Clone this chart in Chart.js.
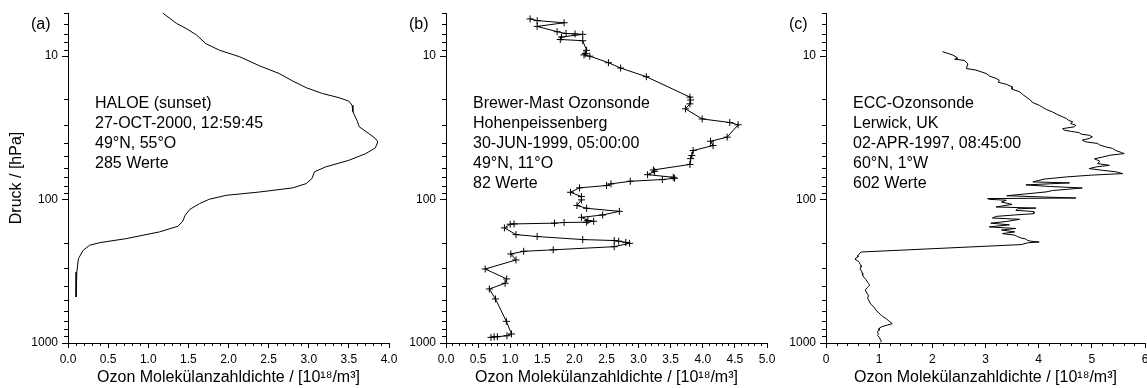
<!DOCTYPE html>
<html>
<head>
<meta charset="utf-8">
<title>Ozonprofile</title>
<script src="https://cdn.jsdelivr.net/npm/chart.js@4/dist/chart.umd.min.js"></script>
<style>
  html, body { margin: 0; padding: 0; background: #fff; }
  body { position: relative; width: 1147px; height: 388px; overflow: hidden; }
  canvas { position: absolute; top: 0; }
  #ca { left: 0; }
  #cb { left: 390px; }
  #cc { left: 770px; }
</style>
</head>
<body>
<canvas id="ca" width="410" height="388"></canvas>
<canvas id="cb" width="400" height="388"></canvas>
<canvas id="cc" width="400" height="388"></canvas>
<script>
// (a) HALOE, Druck in hPa / Ozon in 10^18 m^-3
const pressureA = [5.0, 5.9, 6.4, 7.1, 8.2, 9.1, 10.1, 11.7, 13.2, 14.9, 16.6, 18.2, 19.5, 20.6, 22.0, 24.4,
  28.0, 31.1, 34.7, 37.5, 39.6, 43.6, 47.8, 53.2, 59.2, 64.1, 71.3, 77.3, 82.9, 88.5, 93.4, 99.5,
  106.6, 116.8, 128.5, 141.5, 153.5, 168, 187, 199.5, 208, 225.6, 258, 320, 478];
const ozoneA = [1.18, 1.35, 1.47, 1.60, 1.72, 1.89, 2.14, 2.39, 2.63, 2.80, 2.97, 3.17, 3.38, 3.50, 3.54, 3.55,
  3.60, 3.63, 3.75, 3.83, 3.86, 3.83, 3.71, 3.50, 3.21, 3.07, 3.04, 2.97, 2.80, 2.39, 1.97, 1.76,
  1.64, 1.52, 1.46, 1.43, 1.37, 1.14, 0.73, 0.40, 0.27, 0.19, 0.13, 0.11, 0.10];

// (b) Brewer-Mast Ozonsonde Hohenpeissenberg
const pressureB = [5.5, 5.65, 5.85, 6.2, 6.75, 6.95, 7.0, 7.05, 7.35, 7.65, 7.8,
  9.1, 9.6, 9.8, 10.0, 11.1, 12.1, 13.9, 19.3, 20.2, 21.5, 23.3, 27.4, 29.0, 30.1,
  36.7, 39.2, 42.0, 45.5, 49.3, 51.8, 56.9, 62.1, 63.5, 67.0, 69.9, 71.0, 72.5, 74.5,
  77.7, 79.8, 82.8, 88.9, 95.3, 100.5, 110, 115, 120.8, 128, 133, 140, 141.6, 143.8,
  144.5, 146, 147.8, 148.5, 157.5, 175.4, 181, 190, 193, 195, 199, 201.8, 213, 224,
  229.5, 239.5, 263.6, 304.8, 357.5, 383.5, 420, 493, 706, 865, 890, 904, 906, 914];
const ozoneB = [1.31, 1.42, 1.84, 1.42, 1.73, 1.87, 2.01, 2.13, 1.80, 1.78, 2.13,
  2.19, 2.17, 2.15, 2.24, 2.53, 2.72, 3.12, 3.80, 3.81, 3.80, 3.73, 3.99, 4.42, 4.55,
  4.38, 4.12, 4.16, 3.85, 3.83, 3.81, 3.80, 3.23, 3.25, 3.14, 3.54, 3.56, 3.37, 2.87,
  2.57, 2.50, 2.08, 1.94, 2.11, 2.11, 2.04, 2.19, 2.70, 2.44, 2.11, 2.21, 2.30, 2.19,
  1.84, 1.69, 1.06, 1.00, 0.91, 1.09, 1.42, 2.13, 2.62, 2.69, 2.80, 2.86, 2.62, 1.67,
  1.21, 1.01, 1.09, 0.61, 0.945, 0.92, 0.675, 0.77, 0.94, 1.02, 0.95, 0.80, 0.75, 0.70];

// (c) ECC-Ozonsonde Lerwick
const pressureC = [9.3, 9.8, 10.3, 10.5, 10.7, 11.3, 12.2, 12.5, 13.2, 13.8, 14.3, 14.7, 15.2, 15.7, 16.4, 17.0,
  17.7, 18.5, 19.2, 20.3, 21.0, 22.0, 22.8, 23.6, 24.5, 25.5, 26.5, 27.2, 28.0, 28.7, 29.5, 30.3,
  31.1, 32.0, 32.8, 33.5, 34.1, 35.0, 35.6, 36.5, 37.5, 38.5, 39.6, 40.6, 41.5, 42.8, 44.0, 45.5,
  47.0, 47.8, 49.0, 50.5, 52.0, 54.0, 56.1, 57.7, 59.0, 60.8, 62.5, 64.0, 65.9, 67.5, 69.5, 72.0,
  75.3, 76.5, 79.0, 81.0, 83.0, 85.0, 86.5, 88.4, 91.0, 94.0, 96.5, 97.5, 98.4, 99.6, 101, 104,
  108, 112.6, 114.6, 116, 118.9, 121, 125.4, 128, 131, 134.4, 137.2, 142, 146, 150, 155, 159,
  163, 168, 172.6, 177, 181, 185.3, 188, 192.3, 195, 197.6, 200, 206, 232, 240, 246, 251,
  256, 262, 268, 275, 282, 288, 295, 305, 315, 325, 337, 350, 362, 375, 385, 396,
  410, 425, 441, 455, 470, 485, 500, 518, 540, 560, 576, 592, 610, 630, 650, 676,
  700, 720, 733, 750, 770, 790, 816, 840, 860, 885, 910, 940, 970, 990];
const ozoneC = [2.19, 2.38, 2.48, 2.42, 2.60, 2.67, 2.64, 2.82, 3.01, 3.08, 3.20, 3.26, 3.24, 3.39, 3.51, 3.50,
  3.64, 3.70, 3.76, 3.85, 3.88, 4.01, 4.08, 4.15, 4.26, 4.35, 4.45, 4.52, 4.56, 4.64, 4.60, 4.70,
  4.67, 4.45, 4.48, 4.62, 4.76, 4.80, 4.95, 5.01, 4.95, 4.82, 4.89, 5.11, 5.14, 5.25, 5.39, 5.45,
  5.56, 5.61, 5.35, 5.20, 5.05, 5.15, 5.11, 5.33, 5.10, 4.95, 5.20, 5.45, 5.58, 5.00, 4.52, 4.10,
  3.89, 4.58, 3.76, 4.20, 4.82, 4.50, 4.26, 4.14, 3.80, 3.40, 4.30, 4.70, 3.04, 3.07, 3.39, 3.30,
  3.50, 3.20, 3.95, 3.60, 3.57, 3.90, 3.91, 3.55, 3.20, 3.13, 3.64, 3.40, 3.10, 3.45, 3.07, 3.57,
  3.30, 3.55, 3.32, 3.55, 3.60, 3.67, 3.75, 3.79, 3.85, 4.01, 3.80, 3.67, 0.66, 0.62, 0.60, 0.60,
  0.56, 0.555, 0.60, 0.63, 0.64, 0.66, 0.66, 0.64, 0.67, 0.68, 0.69, 0.72, 0.75, 0.78, 0.80, 0.82,
  0.78, 0.74, 0.755, 0.78, 0.80, 0.78, 0.80, 0.82, 0.85, 0.90, 0.92, 0.94, 0.98, 1.02, 1.06, 1.13,
  1.18, 1.22, 1.245, 1.15, 1.05, 1.00, 1.00, 0.96, 0.99, 0.97, 1.00, 1.02, 1.04, 1.03];

const infoA = ['HALOE (sunset)', '27-OCT-2000, 12:59:45', '49°N, 55°O', '285 Werte'];
const infoB = ['Brewer-Mast Ozonsonde', 'Hohenpeissenberg', '30-JUN-1999, 05:00:00', '49°N, 11°O', '82 Werte'];
const infoC = ['ECC-Ozonsonde', 'Lerwick, UK', '02-APR-1997, 08:45:00', '60°N, 1°W', '602 Werte'];

const xTicksA = [0, 0.5, 1, 1.5, 2, 2.5, 3, 3.5, 4];
const xTicksB = [0, 0.5, 1, 1.5, 2, 2.5, 3, 3.5, 4, 4.5, 5];
const xTicksC = [0, 1, 2, 3, 4, 5, 6];
const yTicks = [10, 100, 1000];
const yMinor = [5, 6, 7, 8, 9, 20, 30, 40, 50, 60, 70, 80, 90, 200, 300, 400, 500, 600, 700, 800, 900];

const FONT = 'Arial, "Liberation Sans", Helvetica, sans-serif';
Chart.defaults.font.family = FONT;
Chart.defaults.color = '#000';

// kurze Zwischenstriche an beiden Achsen
const minorTicks = {
  id: 'minorTicks',
  afterDraw(chart, args, opts) {
    const ctx = chart.ctx, sx = chart.scales.x, sy = chart.scales.y;
    ctx.save();
    ctx.strokeStyle = '#000';
    ctx.lineWidth = 1;
    ctx.beginPath();
    opts.x.forEach(v => {
      const px = Math.round(sx.getPixelForValue(v)) + 0.5;
      ctx.moveTo(px, sx.top);
      ctx.lineTo(px, sx.top + 3);
    });
    opts.y.forEach(v => {
      const py = Math.round(sy.getPixelForValue(v)) + 0.5;
      ctx.moveTo(sy.right, py);
      ctx.lineTo(sy.right - 4, py);
    });
    ctx.stroke();
    ctx.restore();
  }
};

// Panelbuchstabe und Beschreibungstext
const panelText = {
  id: 'panelText',
  afterDraw(chart, args, opts) {
    const ctx = chart.ctx, area = chart.chartArea;
    ctx.save();
    ctx.fillStyle = '#000';
    ctx.font = '16px ' + FONT;
    ctx.textAlign = 'left';
    ctx.textBaseline = 'alphabetic';
    ctx.fillText(opts.letter, area.left - 37, 29);
    opts.lines.forEach((t, i) => ctx.fillText(t, area.left + 27, 108 + 20 * i));
    ctx.restore();
  }
};

function minorList(max, step, major) {
  const out = [];
  for (let k = 1; k * step < max + 1e-9; k++) {
    const v = +(k * step).toFixed(2);
    if (Math.abs(v / major - Math.round(v / major)) > 1e-6) out.push(v);
  }
  return out;
}

function panel(id, o) {
  return new Chart(document.getElementById(id), {
    type: 'scatter',
    data: {
      datasets: [{
        data: o.pressure.map((p, i) => ({ x: o.ozone[i], y: p })),
        showLine: true,
        borderColor: '#000',
        borderWidth: 1,
        tension: 0,
        pointStyle: 'cross',
        pointRadius: o.markers ? 3.5 : 0,
        pointHoverRadius: 0,
        pointBorderColor: '#000',
        pointBorderWidth: 1
      }]
    },
    options: {
      responsive: false,
      animation: false,
      events: [],
      layout: { padding: { left: 0, right: o.padRight, top: 13, bottom: 0 } },
      plugins: {
        legend: { display: false },
        tooltip: { enabled: false },
        minorTicks: { x: o.xMinor, y: yMinor },
        panelText: { letter: o.letter, lines: o.info }
      },
      scales: {
        x: {
          type: 'linear',
          position: 'bottom',
          min: 0,
          max: o.xMax,
          afterBuildTicks: s => { s.ticks = o.xTicks.map(v => ({ value: v })); },
          afterFit: s => { s.height = 45; },
          grid: { drawOnChartArea: false, drawTicks: true, tickLength: 5, color: '#000', tickColor: '#000' },
          border: { display: true, color: '#000', width: 1 },
          ticks: { font: { size: 12 }, color: '#000', padding: 4, maxRotation: 0, autoSkip: false, callback: o.xFmt },
          title: {
            display: true,
            text: 'Ozon Molekülanzahldichte / [10¹⁸/m³]',
            font: { size: 16 },
            color: '#000',
            padding: { top: 0, bottom: 1 }
          }
        },
        y: {
          type: 'logarithmic',
          position: 'left',
          min: 5,
          max: 1000,
          reverse: true,
          afterBuildTicks: s => { s.ticks = yTicks.map(v => ({ value: v })); },
          afterFit: s => { s.width = o.yWidth; },
          grid: { drawOnChartArea: false, drawTicks: true, tickLength: 6, color: '#000', tickColor: '#000' },
          border: { display: true, color: '#000', width: 1 },
          ticks: { font: { size: 12 }, color: '#000', padding: 4, autoSkip: false, callback: v => String(v) },
          title: {
            display: o.yTitle,
            text: 'Druck / [hPa]',
            font: { size: 16 },
            color: '#000',
            padding: { top: 7, bottom: 0 }
          }
        }
      }
    },
    plugins: [minorTicks, panelText]
  });
}

panel('ca', {
  pressure: pressureA, ozone: ozoneA, info: infoA, letter: '(a)', markers: false,
  xMax: 4, xTicks: xTicksA, xMinor: minorList(4, 0.1, 0.5), xFmt: v => v.toFixed(1),
  yWidth: 68, yTitle: true, padRight: 21
});
panel('cb', {
  pressure: pressureB, ozone: ozoneB, info: infoB, letter: '(b)', markers: true,
  xMax: 5, xTicks: xTicksB, xMinor: minorList(5, 0.1, 0.5), xFmt: v => v.toFixed(1),
  yWidth: 56, yTitle: false, padRight: 23
});
panel('cc', {
  pressure: pressureC, ozone: ozoneC, info: infoC, letter: '(c)', markers: false,
  xMax: 6, xTicks: xTicksC, xMinor: minorList(6, 0.2, 1), xFmt: v => String(v),
  yWidth: 56, yTitle: false, padRight: 25
});
</script>
</body>
</html>
